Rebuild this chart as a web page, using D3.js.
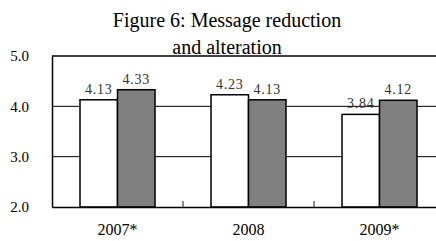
<!DOCTYPE html>
<html>
<head>
<meta charset="utf-8">
<script src="https://cdn.jsdelivr.net/npm/d3@7"></script>
<style>
  body { margin: 0; background: #fff; }
  svg { display: block; font-family: "Liberation Serif", "Times New Roman", serif; }
</style>
</head>
<body>
<svg width="436" height="241"></svg>
<script>

// chart values
let years = ['2007*', '2008', '2009*'];
let seriesNames = ['a', 'b'];
let seriesA = [4.13, 4.23, 3.84];
let seriesB = [4.33, 4.13, 4.12];
let yTicks = [2, 3, 4, 5];
let titleLines = ['Figure 6: Message reduction', 'and alteration'];

let svg = d3.select('svg');

let plotLeft = 52, plotRight = 445, plotTop = 56, plotBottom = 207;

let xScale = d3.scaleBand()
               .domain(years)
               .range([plotLeft, plotRight]);

let barScale = d3.scaleBand()
                 .domain(seriesNames)
                 .range([28, xScale.bandwidth() - 28]);

let yScale = d3.scaleLinear()
               .domain([2, 5])
               .range([plotBottom, plotTop]);

// gridlines
svg.append('g')
   .selectAll('line')
   .data(yTicks.filter(d => d > 2 && d < 5))
   .enter()
   .append('line')
   .attr('x1', plotLeft)
   .attr('x2', plotRight)
   .attr('y1', d => yScale(d))
   .attr('y2', d => yScale(d))
   .attr('stroke', '#000')
   .attr('stroke-width', 1);

// top border
svg.append('line')
   .attr('x1', plotLeft).attr('x2', plotRight)
   .attr('y1', yScale(5)).attr('y2', yScale(5))
   .attr('stroke', '#000').attr('stroke-width', 1.5);

// y axis
let yAxis = d3.axisLeft(yScale)
              .tickValues(yTicks)
              .tickFormat(d3.format('.1f'))
              .tickSize(0)
              .tickPadding(23);

let yG = svg.append('g')
            .attr('transform', 'translate(' + plotLeft + ',0)')
            .call(yAxis);
yG.select('.domain').attr('stroke', '#000').attr('stroke-width', 1.5);
yG.selectAll('text').attr('font-size', 15).attr('fill', '#000')
  .attr('font-family', '"Liberation Serif", serif');

// bars
let groups = svg.selectAll('.year')
                .data(years)
                .enter()
                .append('g')
                .attr('transform', d => 'translate(' + xScale(d) + ',0)');

groups.each(function(year, i) {
  let vals = [{s: 'a', v: seriesA[i], fill: '#ffffff'},
              {s: 'b', v: seriesB[i], fill: '#808080'}];
  let g = d3.select(this);
  g.selectAll('rect')
   .data(vals)
   .enter()
   .append('rect')
   .attr('x', d => barScale(d.s))
   .attr('width', barScale.bandwidth())
   .attr('y', d => yScale(d.v))
   .attr('height', d => yScale(2) - yScale(d.v))
   .attr('fill', d => d.fill)
   .attr('stroke', '#000')
   .attr('stroke-width', 1.5);

  g.selectAll('.lbl')
   .data(vals)
   .enter()
   .append('text')
   .attr('x', d => barScale(d.s) + barScale.bandwidth() / 2)
   .attr('y', d => yScale(d.v) - 6)
   .attr('text-anchor', 'middle')
   .attr('font-size', 14)
   .attr('letter-spacing', 0.8)
   .attr('fill', '#333')
   .text(d => d.v.toFixed(2));
});

// x axis
let xAxis = d3.axisBottom(xScale)
              .tickSize(0)
              .tickPadding(17);

let xG = svg.append('g')
            .attr('transform', 'translate(0,' + plotBottom + ')')
            .call(xAxis);
xG.select('.domain').attr('stroke', '#000').attr('stroke-width', 1.5);
xG.selectAll('text').attr('font-size', 16).attr('fill', '#000')
  .attr('font-family', '"Liberation Serif", serif');

// small ticks between categories
svg.append('g')
   .selectAll('line')
   .data(years.slice(1))
   .enter()
   .append('line')
   .attr('x1', d => xScale(d))
   .attr('x2', d => xScale(d))
   .attr('y1', plotBottom)
   .attr('y2', plotBottom - 6)
   .attr('stroke', '#666')
   .attr('stroke-width', 1.5);

// title
svg.append('g')
   .selectAll('text')
   .data(titleLines)
   .enter()
   .append('text')
   .attr('x', 227)
   .attr('y', (d, i) => 27 + i * 26.5)
   .attr('text-anchor', 'middle')
   .attr('font-size', 20)
   .attr('fill', '#000')
   .text(d => d);

</script>
</body>
</html>
